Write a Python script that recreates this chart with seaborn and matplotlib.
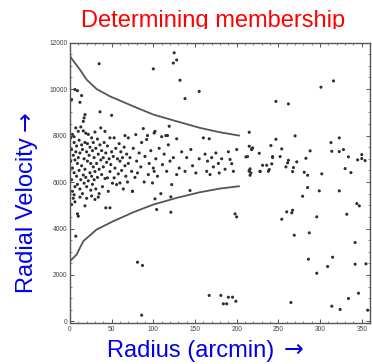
import matplotlib
matplotlib.use("Agg")
import matplotlib.pyplot as plt
import seaborn as sns
import pandas as pd
from matplotlib.ticker import MultipleLocator
from matplotlib.transforms import Bbox

# ---------------- data (radius in arcmin, radial velocity in km/s) ----------------
dense_r = [1,1,2,2,3,3,3,4,4,5,5,5,6,6,7,7,8,8,9,9,10,10,11,11,12,12,13,13,14,14,15,15,16,16,17,17,
           18,18,19,19,20,20,21,21,22,22,23,24,24,25,25,26,26,27,27,28,28,29,29,30,30,
           5,12,20,26,30,34]
dense_v = [7900,6900,7400,6100,8050,6600,5600,7150,5300,7950,6400,7700,6950,5800,8330,7300,6250,7550,
           5900,6800,8180,7050,6500,7800,5700,7250,8370,6100,7600,6700,5500,7400,8200,6300,7000,5950,
           7700,6550,8100,6200,7300,5800,6900,7650,8050,6050,7150,6400,7500,5650,6800,7900,6250,7350,
           5900,6650,7700,6100,7050,8150,6450,
           5450,5350,5300,5400,5250,5350]

mid_r = [31,31,32,33,33,34,35,35,36,37,37,38,38,39,40,40,41,42,42,43,44,45,45,46,47,48,48,49,50,51,
         52,53,53,54,55,56,57,58,59,60,60,61,62,63,64,65,66,66,67,68,69,70,70]
mid_v = [7450,5700,6800,7850,6200,7200,5500,6550,7600,8330,6950,6320,7350,5800,7050,6650,7700,8180,
         6150,7250,6850,6180,7550,5600,7000,6450,7900,6750,7300,5950,7100,7900,6180,6600,7450,5890,
         7000,6350,7650,5960,6900,7300,6500,7050,5700,7500,8000,6700,6250,7200,6000,7900,6800]

outer_r = [72,74,75,76,78,79,80,81,83,85,86,88,89,90,92,93,94,95,97,99,100,101,101,102,103,105,107,
           109,110,111,113,115,116,117,118,119,120,
           122,124,128,128,131,134,138,140,145,147,151,155,160,162,164,165,167,168,170,172,175,178,
           179,182,186,190,192,194,196,200]
outer_v = [7050,6460,5600,7450,6200,8040,6900,6390,7250,6650,7700,8300,6000,7100,7830,8000,6320,6800,
           7350,5960,6600,8110,6460,8180,7000,6250,7450,5500,7950,6750,7200,8000,6460,8000,7600,8400,
           6900,
           5890,7050,7860,6320,6600,7300,6460,7050,7400,6700,6390,7000,7900,7200,6460,6900,7860,6320,
           7050,6650,7250,6800,6390,7000,6550,7300,6970,6790,6460,7400]

far_r = [211,215,218,213,215,219,218,227,241,243,243,247,252,254,262,261,259,268,270,272,231,236,242,
         216,215,228,239,267,281,285,302,283,288,313,314,323,323,328,334,330,337,345,350,350,354,216,
         215,217,228,238,
         285,299,323,279,344,347,332,260,266,267,254,296,287,269,342,286,315,296,309,342,355,346,334,
         265,314,324,357]
far_v = [7080,7540,7430,7095,8140,7469,7396,7237,7568,7095,7052,7839,7095,7426,6936,6824,6652,6622,
         7985,6867,6721,6721,6781,6566,6493,6450,6536,6450,6420,6291,6351,7022,7340,7697,7323,7899,
         7310,7396,7082,6579,6407,6953,7181,7009,6923,6291,6463,6393,6463,6463,
         5762,5620,5620,5388,5074,4975,4614,4717,4674,4786,4399,4502,3814,3711,3397,2679,2765,2077,
         2365,2464,2481,1217,989,817,658,516,486]

odd_r = [35,125,128,124,100,132,155,138,301,316,247,262,6,9,2,14,12,36,50,18,17,16,
         7,81,87,86,167,181,184,188,190,195,199,198,200,104,121,43,48,18,9,10,6,2,144,75,102,121]
odd_v = [11090,11560,11250,11120,10870,10380,9900,9590,10080,10350,9470,9360,9980,9930,9550,9720,9430,
         9020,8870,8900,8760,8610,
         3670,2550,2410,270,1120,1120,760,760,1045,1045,870,4630,4500,4816,4700,4889,4889,4975,4631,
         4528,5147,5031,5633,5603,5276,5362]

upper_r = [0,12,20,32,48,76,100,128,156,180,203]
upper_v = [11410,10836,10406,10000,9688,9258,8903,8613,8329,8140,7998]
lower_r = [0,8,16,32,52,76,100,128,156,180,203]
lower_v = [2594,2881,3454,3957,4314,4700,5031,5318,5562,5719,5820]

x_ticks = [0, 50, 100, 150, 200, 250, 300, 350]
y_ticks = [0, 2000, 4000, 6000, 8000, 10000, 12000]

title_text = "Determining membership"
xlabel_text = "Radius (arcmin)"
ylabel_text = "Radial Velocity"
arrow_text = "\u2192"

# ---------------- figure ----------------
sns.set_style("ticks")
plt.rcParams["font.family"] = ["Liberation Sans", "DejaVu Sans"]

pts = pd.DataFrame({
    "r": dense_r + mid_r + outer_r + far_r + odd_r,
    "v": dense_v + mid_v + outer_v + far_v + odd_v,
})
up = pd.DataFrame({"r": upper_r, "v": upper_v})
lo = pd.DataFrame({"r": lower_r, "v": lower_v})

W, H = 372, 364
fig = plt.figure(figsize=(W / 100, H / 100), dpi=100)
ax = fig.add_axes([0.188, 0.113, 0.807, 0.770])

sns.scatterplot(data=pts, x="r", y="v", ax=ax, s=5, color="#2e2e2e",
                edgecolor="none", linewidth=0)
sns.lineplot(data=up, x="r", y="v", ax=ax, sort=False, color="#555555", lw=1.3)
sns.lineplot(data=lo, x="r", y="v", ax=ax, sort=False, color="#555555", lw=1.3)

ax.set_xlim(0, 360)
ax.set_ylim(-60, 12000)
ax.set_xticks(x_ticks)
ax.set_yticks(y_ticks)
ax.xaxis.set_minor_locator(MultipleLocator(10))
ax.yaxis.set_minor_locator(MultipleLocator(500))
ax.tick_params(which="both", direction="in", top=True, right=True,
               labelsize=4.8, labelcolor="#444444", color="#555555", pad=2)
ax.tick_params(which="major", length=3, width=0.7)
ax.tick_params(which="minor", length=1.5, width=0.5)
for sp in ax.spines.values():
    sp.set_color("#555555")
    sp.set_linewidth(1.0)
ax.set_xlabel("")
ax.set_ylabel("")

# title (bottom of descenders cropped as in the reference)
t = fig.text(213.5 / W, (H - 27) / H, title_text, color="#ff0000", fontsize=17,
             ha="center", va="baseline", family="Liberation Sans")
t.set_clip_box(Bbox([[0, H - 28.5], [W, H]]))
t.set_clip_on(True)

renderer = fig.canvas.get_renderer()

# x label + arrow
xl = fig.text(107 / W, (H - 357.3) / H, xlabel_text, color="#0000ee", fontsize=17,
              ha="left", va="baseline", family="Liberation Sans")
bb = xl.get_window_extent(renderer)
fig.text((bb.x1 + 9) / W, (H - 357.3) / H, arrow_text, color="#0000ee", fontsize=17,
         ha="left", va="baseline", family="DejaVu Sans")

# y label + arrow
yl = fig.text(33 / W, (H - 293.3) / H, ylabel_text, color="#0000ee", fontsize=17,
              ha="left", va="baseline", rotation=90, rotation_mode="anchor",
              family="Liberation Sans")
bb = yl.get_window_extent(renderer)
fig.text(33 / W, (bb.y1 + 7) / H, arrow_text, color="#0000ee", fontsize=17,
         ha="left", va="baseline", rotation=90, rotation_mode="anchor",
         family="DejaVu Sans")

fig.savefig("out.png", dpi=100)
